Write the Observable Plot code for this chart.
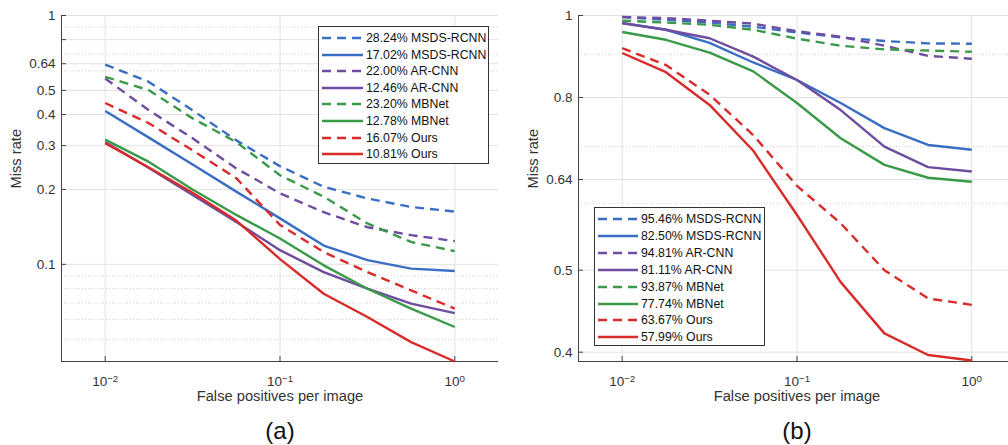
<!DOCTYPE html>
<html>
<head>
<meta charset="utf-8">
<script src="https://cdn.jsdelivr.net/npm/d3@7"></script>
<script src="https://cdn.jsdelivr.net/npm/@observablehq/plot@0.6"></script>
<style>
  html, body { margin: 0; padding: 0; background: #fff; }
  #root { position: relative; width: 1008px; height: 445px; overflow: hidden; background: #fff;
          font-family: "Liberation Sans", Arial, Helvetica, sans-serif; }
  .chart { position: absolute; top: 0; width: 508px; height: 415px; }
  .chart svg { max-width: none !important; }
  .legend { position: absolute; background: #fff; border: 1px solid #333; box-sizing: border-box; }
  .row { position: absolute; left: 0; height: 16px; white-space: nowrap; font-size: 12.3px; color: #111; line-height: 16px; }
  .row svg { position: absolute; top: 6px; }
  .row span { position: absolute; top: 0; }
  .cap { position: absolute; font-size: 24px; color: #111; transform: translate(-50%, -50%); }
</style>
</head>
<body>
<div id="root">
  <div id="chartA" class="chart" style="left:0px"></div>
  <div id="chartB" class="chart" style="left:517px"></div>
  <div id="legA" class="legend" style="left:318px; top:26px; width:171px; height:138px"></div>
  <div id="legB" class="legend" style="left:594px; top:207px; width:171px; height:139px"></div>
  <div class="cap" style="left:280px; top:431px">(a)</div>
  <div class="cap" style="left:797px; top:431px">(b)</div>
</div>
<script>
// False positives per image sample points (x)
const fppi = [0.01, 0.017783, 0.031623, 0.056234, 0.1, 0.177828, 0.316228, 0.562341, 1];
const xTicks = [0.01, 0.1, 1];

const names = ["MSDS-RCNN", "MSDS-RCNN", "AR-CNN", "AR-CNN", "MBNet", "MBNet", "Ours", "Ours"];
const colors = ["#3a6ec5", "#3a6ec5", "#6e4c9f", "#6e4c9f", "#3b9a48", "#3b9a48", "#da2b2b", "#da2b2b"];
const dashed = [true, false, true, false, true, false, true, false];

// (a) legend percentages and miss-rate curves
const labelsA = ["28.24%", "17.02%", "22.00%", "12.46%", "23.20%", "12.78%", "16.07%", "10.81%"];
const msdsDashA = [0.635, 0.541, 0.416, 0.315, 0.248, 0.205, 0.184, 0.170, 0.163];
const msdsA     = [0.413, 0.323, 0.252, 0.196, 0.153, 0.119, 0.104, 0.0961, 0.0940];
const arDashA   = [0.558, 0.416, 0.321, 0.243, 0.193, 0.162, 0.141, 0.131, 0.124];
const arA       = [0.310, 0.244, 0.190, 0.148, 0.114, 0.0931, 0.0798, 0.0695, 0.0637];
const mbDashA   = [0.567, 0.501, 0.386, 0.310, 0.228, 0.187, 0.146, 0.123, 0.113];
const mbA       = [0.317, 0.258, 0.200, 0.158, 0.127, 0.0991, 0.0798, 0.0664, 0.0560];
const oursDashA = [0.445, 0.369, 0.287, 0.222, 0.144, 0.112, 0.0931, 0.0786, 0.0664];
const oursA     = [0.307, 0.245, 0.194, 0.150, 0.105, 0.0762, 0.0614, 0.0487, 0.0407];
const yTicksA = [0.1, 0.2, 0.3, 0.4, 0.5, 0.64, 0.8, 1];
const yMinorA = [0.05, 0.06, 0.07, 0.08, 0.09, 0.6, 0.7, 0.9];
const yDomainA = [0.0407, 1];

// (b) legend percentages and miss-rate curves
const labelsB = ["95.46%", "82.50%", "94.81%", "81.11%", "93.87%", "77.74%", "63.67%", "57.99%"];
const msdsDashB = [0.996, 0.988, 0.981, 0.970, 0.955, 0.942, 0.933, 0.927, 0.926];
const msdsB     = [0.980, 0.962, 0.928, 0.880, 0.839, 0.788, 0.736, 0.703, 0.694];
const arDashB   = [0.996, 0.993, 0.986, 0.978, 0.958, 0.944, 0.921, 0.896, 0.889];
const arB       = [0.979, 0.962, 0.940, 0.894, 0.839, 0.773, 0.700, 0.662, 0.654];
const mbDashB   = [0.986, 0.981, 0.975, 0.962, 0.939, 0.921, 0.912, 0.909, 0.906];
const mbB       = [0.956, 0.936, 0.904, 0.859, 0.788, 0.716, 0.666, 0.643, 0.636];
const oursDashB = [0.915, 0.874, 0.806, 0.722, 0.629, 0.568, 0.500, 0.463, 0.455];
const oursB     = [0.903, 0.857, 0.784, 0.692, 0.581, 0.484, 0.421, 0.397, 0.391];
const yTicksB = [0.4, 0.5, 0.64, 0.8, 1];
const yMinorB = [0.6, 0.7, 0.9];
const yDomainB = [0.39, 1];

const xDomain = [0.0056234, 1.778279];

function makeChart(curves, yDomain, yTicks, yMinor) {
  const W = 508, H = 415, mL = 61, mR = 10, mT = 15, mB = 54;
  const fw = W - mL - mR, fh = H - mT - mB;
  const lineMarks = curves.map((vals, i) =>
    Plot.line(fppi.map((x, j) => ({x, y: vals[j]})), {
      x: "x", y: "y", stroke: colors[i], strokeWidth: 2.4,
      strokeDasharray: dashed[i] ? "9,6" : null, strokeLinejoin: "round", strokeLinecap: "butt"
    }));
  const svg = Plot.plot({
    width: W, height: H,
    marginLeft: mL, marginRight: mR, marginTop: mT, marginBottom: mB,
    style: {fontFamily: '"Liberation Sans", Arial, Helvetica, sans-serif', fontSize: "13.5px", color: "#333", background: "#fff", overflow: "visible", maxWidth: "none"},
    x: {type: "log", domain: xDomain},
    y: {type: "log", domain: yDomain},
    marks: [
      Plot.ruleY(yMinor, {stroke: "#cfcfcf", strokeDasharray: "1,2"}),
      Plot.ruleY(yTicks, {stroke: "#e2e2e2"}),
      Plot.ruleX(xTicks, {stroke: "#e2e2e2"}),
      Plot.ruleX([xDomain[0]], {stroke: "#444"}),
      Plot.ruleY([yDomain[0]], {stroke: "#444"}),
      Plot.tickY(yTicks, {stroke: "#444", insetRight: fw - 5}),
      Plot.tickX(xTicks, {stroke: "#444", insetTop: fh - 5}),
      ...lineMarks,
      Plot.axisY({ticks: yTicks, tickFormat: d => String(d), tickSize: 0, tickPadding: 6, label: null}),
      Plot.axisX({ticks: xTicks, tickFormat: d => "10^" + Math.round(Math.log10(d)), tickSize: 0, tickPadding: 15, label: null}),
      Plot.text(["Miss rate"], {text: d => d, frameAnchor: "left", dx: -45, rotate: -90, fontSize: 14.7}),
      Plot.text(["False positives per image"], {text: d => d, frameAnchor: "bottom", dy: 39, fontSize: 14.7})
    ]
  });
  svg.style.maxWidth = "none";
  svg.setAttribute("width", W);
  svg.setAttribute("height", H);
  // superscript exponents for the x tick labels
  svg.querySelectorAll('[aria-label="x-axis tick label"] text').forEach(t => {
    const s = t.textContent;
    const m = s.match(/^10\^(-?\d+)$/);
    if (m) {
      const e = m[1].replace("-", "\u2212");
      t.textContent = "10";
      const ts = document.createElementNS("http://www.w3.org/2000/svg", "tspan");
      ts.setAttribute("dy", "-0.45em");
      ts.setAttribute("font-size", "0.72em");
      ts.textContent = e;
      t.appendChild(ts);
    }
  });
  return svg;
}

document.getElementById("chartA").appendChild(
  makeChart([msdsDashA, msdsA, arDashA, arA, mbDashA, mbA, oursDashA, oursA], yDomainA, yTicksA, yMinorA));
document.getElementById("chartB").appendChild(
  makeChart([msdsDashB, msdsB, arDashB, arB, mbDashB, mbB, oursDashB, oursB], yDomainB, yTicksB, yMinorB));

function makeLegend(el, labels, rowStep, lineLen) {
  labels.forEach((lab, i) => {
    const row = document.createElement("div");
    row.className = "row";
    row.style.top = (3 + i * rowStep) + "px";
    const svg = d3.create("svg").attr("width", lineLen + 4).attr("height", 4)
      .style("left", "3px");
    svg.append("line").attr("x1", 0).attr("x2", lineLen).attr("y1", 2).attr("y2", 2)
      .attr("stroke", colors[i]).attr("stroke-width", 2.4)
      .attr("stroke-dasharray", dashed[i] ? "9,6" : null);
    row.appendChild(svg.node());
    const sp = document.createElement("span");
    sp.style.left = (lineLen + 6) + "px";
    sp.textContent = lab + " " + names[i];
    row.appendChild(sp);
    el.appendChild(row);
  });
}
makeLegend(document.getElementById("legA"), labelsA, 16.6, 41);
makeLegend(document.getElementById("legB"), labelsB, 16.9, 40);
</script>
</body>
</html>
